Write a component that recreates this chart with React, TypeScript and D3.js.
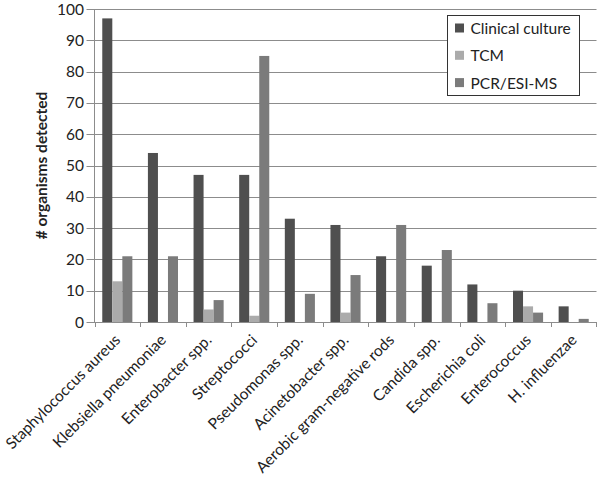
import React from "react";
import * as d3 from "d3";

const categories = [
  "Staphylococcus aureus",
  "Klebsiella pneumoniae",
  "Enterobacter spp.",
  "Streptococci",
  "Pseudomonas spp.",
  "Acinetobacter spp.",
  "Aerobic gram-negative rods",
  "Candida spp.",
  "Escherichia coli",
  "Enterococcus",
  "H. influenzae",
];
const seriesNames = ["Clinical culture", "TCM", "PCR/ESI-MS"];
const clinical = [97, 54, 47, 47, 33, 31, 21, 18, 12, 10, 5];
const tcm = [13, 0, 4, 2, 0, 3, 0, 0, 0, 5, 0];
const pcr = [21, 21, 7, 85, 9, 15, 31, 23, 6, 3, 1];
const yTicks = [0, 10, 20, 30, 40, 50, 60, 70, 80, 90, 100];
const colors = ["#4f4f4f", "#ababab", "#7b7b7b"];

export default function App() {
  const W = 600, H = 483;
  const left = 94.5, right = 596.5, top = 9, bottom = 322;
  const x = d3.scaleBand<string>().domain(categories).range([left, right]);
  const y = d3.scaleLinear().domain([0, 100]).range([bottom, top]);
  const bw = x.bandwidth();
  const barW = bw / 4.55;
  const inner = d3.scaleBand<number>().domain([0, 1, 2]).range([0, barW * 3]);
  const offset = (bw - barW * 3) / 2;
  const data = [clinical, tcm, pcr];
  const font = "Lato, sans-serif";
  return (
    <svg width={W} height={H} style={{ position: "absolute", left: 0, top: 0, background: "#fff" }} fontFamily={font}>
      {yTicks.map((t) => (
        <g key={t}>
          <line x1={left - 8} x2={right} y1={Math.round(y(t)) + 0.5} y2={Math.round(y(t)) + 0.5} stroke="#8c8c8c" strokeWidth={1} />
          <text x={84} y={y(t)} dy="0.36em" textAnchor="end" fontSize={15.5} fill="#222">{t}</text>
        </g>
      ))}
      <line x1={left} x2={left} y1={top} y2={bottom} stroke="#8c8c8c" />
      {categories.map((c, i) => (
        <line key={"tk" + i} x1={Math.round(x(c)!) + 0.5} x2={Math.round(x(c)!) + 0.5} y1={bottom} y2={bottom + 5} stroke="#8c8c8c" />
      ))}
      <line x1={right} x2={right} y1={bottom} y2={bottom + 5} stroke="#8c8c8c" />
      {data.map((vals, s) =>
        vals.map((v, i) => (
          <rect
            key={s + "-" + i}
            x={x(categories[i])! + offset + inner(s)!}
            width={barW}
            y={y(v)}
            height={bottom - y(v)}
            fill={colors[s]}
          />
        ))
      )}
      {categories.map((c, i) => {
        const cx = x(c)! + bw / 2 + 4;
        const cy = bottom + 19;
        return (
          <text key={"lb" + i} x={cx} y={cy} textAnchor="end" fontSize={15.5} fill="#222" transform={`rotate(-45 ${cx} ${cy})`}>
            {c}
          </text>
        );
      })}
      <text x={0} y={0} transform={`translate(41 ${(top + bottom) / 2}) rotate(-90)`} dy="0.36em" textAnchor="middle" fontSize={15.5} fontWeight="bold" fill="#222">
        # organisms detected
      </text>
      <rect x={447.5} y={15.5} width={132} height={80} fill="#fff" stroke="#333" />
      {seriesNames.map((n, i) => (
        <g key={n}>
          <rect x={455} y={23.5 + i * 27.3} width={9} height={9} fill={colors[i]} />
          <text x={470.5} y={34 + i * 27.3} fontSize={15.5} fill="#222">{n}</text>
        </g>
      ))}
    </svg>
  );
}
